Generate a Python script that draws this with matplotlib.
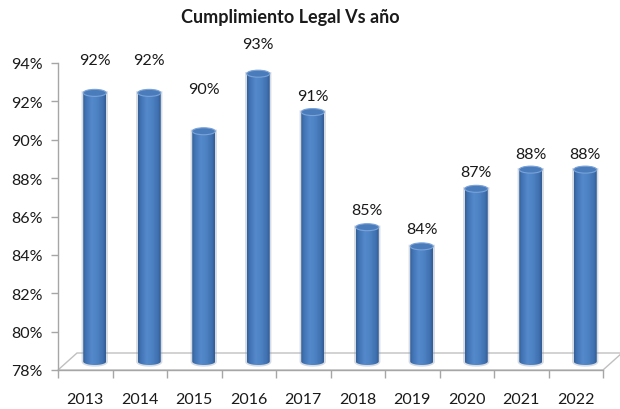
import numpy as np
import matplotlib
matplotlib.use("Agg")
import matplotlib.pyplot as plt
from matplotlib.path import Path
from matplotlib.patches import PathPatch, Ellipse, Polygon
from matplotlib.colors import LinearSegmentedColormap

# ---- data ----
years = ["2013", "2014", "2015", "2016", "2017", "2018", "2019", "2020", "2021", "2022"]
values = [92, 92, 90, 93, 91, 85, 84, 87, 88, 88]
value_labels = ["92%", "92%", "90%", "93%", "91%", "85%", "84%", "87%", "88%", "88%"]
yticks = [78, 80, 82, 84, 86, 88, 90, 92, 94]
title = "Cumplimiento Legal Vs año"

# ---- style ----
label_offsets_px = [33, 33, 42, 30, 16, 17, 17, 17, 16, 16]   # label lift above cylinder top

plt.rcParams["font.family"] = ["Lato", "DejaVu Sans"]

W, H = 620, 410
fig = plt.figure(figsize=(W / 100, H / 100), dpi=100)
fig.patch.set_facecolor("white")
x_left, x_right, y_top, y_bot = 58, 603, 64, 371
ax = fig.add_axes([x_left / W, (H - y_bot) / H, (x_right - x_left) / W, (y_bot - y_top) / H])
ymin, ymax = 78, 94
n = len(years)
ax.set_xlim(-0.5, n - 0.5)
ax.set_ylim(ymin, ymax)

px_x = (x_right - x_left) / n          # pixels per category
px_y = (y_bot - y_top) / (ymax - ymin)  # pixels per percent
dxf = 19 / px_x   # full depth offset (x, data units)
dyf = 17 / px_y   # full depth offset (y, data units)

grid_col = "#c0c0c0"
floor = Polygon([(-0.5, ymin), (n - 0.5, ymin), (n - 0.5 + dxf, ymin + dyf), (-0.5 + dxf, ymin + dyf)],
                closed=True, facecolor="white", edgecolor=grid_col, lw=1.0, clip_on=False, zorder=1)
ax.add_patch(floor)

cmap = LinearSegmentedColormap.from_list(
    "cyl", [(0.0, "#345f98"), (0.12, "#4173b3"), (0.38, "#5489cc"), (0.62, "#4d82c3"),
            (0.88, "#3f6fae"), (1.0, "#325b93")])
grad = np.linspace(0, 1, 256).reshape(1, -1)

w = 23 / px_x
eh = 7 / px_y
for i, v in enumerate(values):
    cx = i + dxf / 2
    yb = ymin + dyf / 2
    yt = v + dyf / 2
    x0, x1 = cx - w / 2, cx + w / 2
    t = np.linspace(np.pi, 2 * np.pi, 40)
    verts = [(x0, yt), (x0, yb)] + [(cx + w / 2 * np.cos(a), yb + eh / 2 * np.sin(a)) for a in t] + [(x1, yt), (x0, yt)]
    codes = [Path.MOVETO] + [Path.LINETO] * (len(verts) - 2) + [Path.CLOSEPOLY]
    path = Path(verts, codes)
    sh = PathPatch(path, facecolor="none", edgecolor="#8e9bb0", lw=2.4, alpha=0.35, zorder=2, clip_on=False)
    ax.add_patch(sh)
    patch = PathPatch(path, facecolor="none", edgecolor="none", zorder=3, clip_on=False)
    ax.add_patch(patch)
    im = ax.imshow(grad, extent=[x0, x1, yb - eh / 2, yt], aspect="auto", cmap=cmap,
                   interpolation="bilinear", zorder=3, origin="lower")
    im.set_clip_path(patch)
    top = Ellipse((cx, yt), w, eh, facecolor="#4a7cbc", edgecolor="#7aa3d8", lw=0.8, zorder=4, clip_on=False)
    ax.add_patch(top)
    ax.annotate(value_labels[i], xy=(cx, yt), xytext=(0, label_offsets_px[i] * 0.72),
                textcoords="offset points", ha="center", va="center", fontsize=11.5, color="#1a1a1a", zorder=5)

ax.set_xlim(-0.5, n - 0.5)
ax.set_ylim(ymin, ymax)

for s in ["top", "right"]:
    ax.spines[s].set_visible(False)
for s in ["left", "bottom"]:
    ax.spines[s].set_color("#a6a6a6")
    ax.spines[s].set_linewidth(1.0)

ax.set_yticks(yticks)
ax.set_yticklabels([f"{t}%" for t in yticks])
ax.tick_params(axis="y", direction="out", length=5, width=1, color="#a6a6a6", pad=6,
               labelsize=11.5, labelcolor="#1a1a1a")
ax.set_xticks(np.arange(-0.5, n, 1.0))
ax.set_xticklabels([])
ax.tick_params(axis="x", which="major", direction="out", length=6, width=1, color="#a6a6a6")
ax.set_xticks(np.arange(n), minor=True)
ax.set_xticklabels(years, minor=True)
ax.tick_params(axis="x", which="minor", length=0, pad=16, labelsize=11.5, labelcolor="#1a1a1a")

fig.text(290 / W, 1 - 18 / H, title, ha="center", va="center", fontsize=13, fontweight="bold", color="#1a1a1a")

fig.savefig("out.png", dpi=100)
